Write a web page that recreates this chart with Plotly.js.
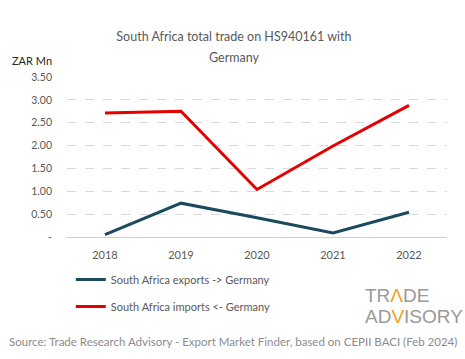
<!DOCTYPE html>
<html><head><meta charset="utf-8">
<script src="https://cdn.plot.ly/plotly-3.0.1.min.js"></script>
<style>body{margin:0;background:#fff}#chart{width:465px;height:359px}</style>
</head><body><div id="chart"></div>
<script>
const years = ['2018','2019','2020','2021','2022'];
const exportsZAR = [0.05, 0.74, 0.42, 0.09, 0.54];
const importsZAR = [2.71, 2.75, 1.04, 1.99, 2.88];
const tickVals = [0, 0.5, 1, 1.5, 2, 2.5, 3, 3.5];
const tickText = ['-', '0.50', '1.00', '1.50', '2.00', '2.50', '3.00', '3.50'];
const FONT = 'Lato, "Noto Sans", sans-serif';
const LOGO = '"Liberation Sans Narrow", "Liberation Sans", sans-serif';
const traces = [
  {x: years, y: exportsZAR, type: 'scatter', mode: 'lines', name: 'South Africa exports -> Germany',
   line: {color: '#1b4a5e', width: 3}, legendgroup: 'a'},
  {x: years, y: importsZAR, type: 'scatter', mode: 'lines', name: 'South Africa imports <- Germany',
   line: {color: '#e60000', width: 3}, legendgroup: 'b'}
];
const layout = {
  width: 465, height: 359,
  margin: {l: 67, r: 18, t: 77, b: 122},
  paper_bgcolor: '#fff', plot_bgcolor: '#fff',
  font: {family: FONT, color: '#595959', size: 11},
  title: {text: 'South Africa total trade on HS940161 with', x: 0.503, xanchor: 'center', y: 0.897, yanchor: 'middle',
          font: {family: FONT, size: 12.5, color: '#595959'}},
  xaxis: {type: 'category', range: [-0.5, 4.5], showgrid: false, showline: false, zeroline: false,
          ticks: '', tickfont: {size: 11, color: '#595959'}, ticklabelstandoff: 10, fixedrange: true},
  yaxis: {range: [0, 3.5], tickvals: tickVals, ticktext: tickText, showgrid: true, gridcolor: '#d9d9d9',
          griddash: 'dash', gridwidth: 1, zeroline: true, zerolinecolor: '#d0d0d0', zerolinewidth: 1,
          showline: false, ticks: '', tickfont: {size: 10.5, color: '#595959'}, ticklabelstandoff: 14, fixedrange: true},
  showlegend: true,
  legend: {orientation: 'v', x: 0.01, xanchor: 'left', y: -0.175, yanchor: 'top', traceorder: 'grouped',
           tracegroupgap: 8, font: {size: 11, color: '#595959'}, bgcolor: 'rgba(0,0,0,0)'},
  annotations: [
    {text: 'Germany', xref: 'paper', yref: 'paper', x: 0.44, xanchor: 'center', y: 1.12, yanchor: 'middle',
     showarrow: false, font: {family: FONT, size: 12.5, color: '#595959'}},
    {text: 'ZAR Mn', xref: 'paper', yref: 'paper', x: -0.15, xanchor: 'left', y: 1.1, yanchor: 'middle',
     showarrow: false, font: {size: 11, color: '#262626'}},
    {text: 'TR<span style="color:#f0a020">Λ</span>DE', xref: 'paper', yref: 'paper',
     x: 0.779, xanchor: 'left', y: -0.366, yanchor: 'middle', align: 'left', showarrow: false,
     font: {family: LOGO, size: 19, color: '#999999'}},
    {text: 'AD<span style="color:#f0a020">V</span>ISORY', xref: 'paper', yref: 'paper',
     x: 0.779, xanchor: 'left', y: -0.497, yanchor: 'middle', align: 'left', showarrow: false,
     font: {family: LOGO, size: 19, color: '#999999'}},
    {text: 'Source: Trade Research Advisory - Export Market Finder, based on CEPII BACI (Feb 2024)', xref: 'paper', yref: 'paper',
     x: 0.438, xanchor: 'center', y: -0.655, yanchor: 'middle', showarrow: false, font: {size: 11.5, color: '#8c8c8c'}}
  ]
};
Plotly.newPlot('chart', traces, layout, {displayModeBar: false, staticPlot: true});
</script></body></html>
